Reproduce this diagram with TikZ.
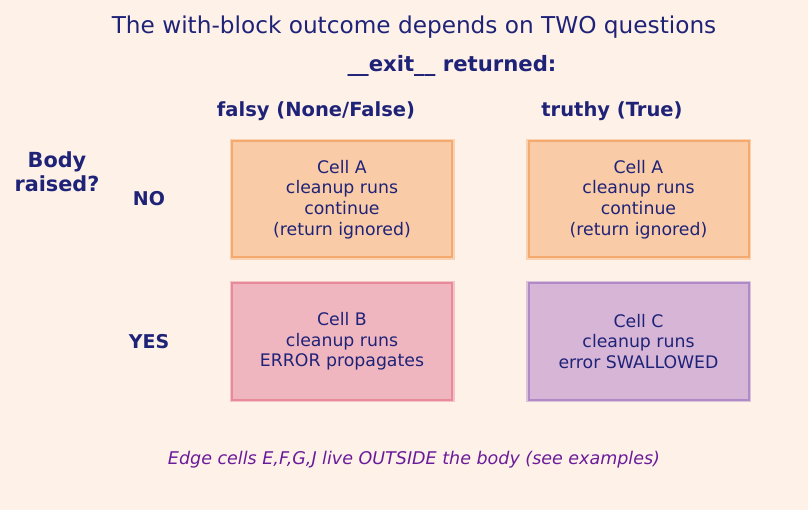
\documentclass[tikz,border=0pt]{standalone}
\usepackage{fontspec}
\setmainfont{DejaVu Sans}
\definecolor{bg}{HTML}{FEF1E8}
\definecolor{navy}{HTML}{1F2378}
\definecolor{purp}{HTML}{6A1B9A}
\definecolor{fa}{HTML}{F9CBA7}
\definecolor{ba}{HTML}{F4A96E}
\definecolor{fb}{HTML}{F0B6C0}
\definecolor{bb}{HTML}{E88A9A}
\definecolor{fc}{HTML}{D6B5D6}
\definecolor{bc}{HTML}{B08AC8}
\tikzset{
  cell/.style={rectangle, minimum width=220pt, minimum height=116pt, line width=2pt, align=center, text=navy, font=\fontsize{17.3}{20.6}\selectfont},
  hdr/.style={text=navy, font=\fontsize{19.5}{22}\selectfont\bfseries},
  halo/.style={preaction={draw=#1!45!bg, line width=5pt}},
}
\begin{document}
\begin{tikzpicture}[x=1pt,y=-1pt]
\fill[bg] (0,0) rectangle (808,510);
\useasboundingbox (0,0) rectangle (808,510);
\node[text=navy, font=\fontsize{23.2}{26}\selectfont] (title) at (414,27) {The with-block outcome depends on TWO questions};
\node[hdr, font=\fontsize{21.2}{24}\selectfont\bfseries] (exit) at (452,66) {\_\_exit\_\_ returned:};
\node[hdr] (falsy) at (316,111) {falsy (None/False)};
\node[hdr] (truthy) at (612,111) {truthy (True)};
\node[hdr, font=\fontsize{20.8}{24}\selectfont\bfseries, align=center] (body) at (57,172) {Body\\raised?};
\node[hdr, font=\fontsize{19}{22}\selectfont\bfseries] (no) at (149,199) {NO};
\node[hdr, font=\fontsize{19}{22}\selectfont\bfseries] (yes) at (149,342) {YES};
\node[cell, fill=fa, draw=ba, halo=ba] (a1) at (342,199.5) {Cell A\\cleanup runs\\continue\\(return ignored)};
\node[cell, fill=fa, draw=ba, halo=ba] (a2) at (638.5,199.5) {Cell A\\cleanup runs\\continue\\(return ignored)};
\node[cell, fill=fb, draw=bb, halo=bb] (b) at (342,341.5) {Cell B\\cleanup runs\\ERROR propagates};
\node[cell, fill=fc, draw=bc, halo=bc] (c) at (638.5,341.5) {Cell C\\cleanup runs\\error SWALLOWED};
\node[text=purp, font=\fontsize{17.5}{20}\selectfont\itshape] (foot) at (414,460) {Edge cells E,F,G,J live OUTSIDE the body (see examples)};
\end{tikzpicture}
\end{document}
